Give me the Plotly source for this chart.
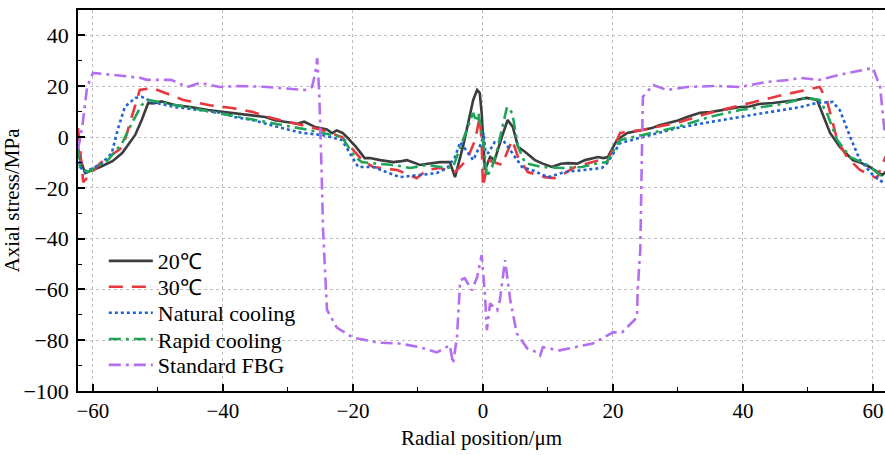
import plotly.graph_objects as go

# 20 °C
x20 = [-62.2, -61.2, -58.9, -57.0, -55.5, -53.5, -52.5, -51.5, -50.7, -49.5, -47.4, -45.0, -42.3, -40.2, -37.5,
       -35.5, -33.5, -32.0, -30.2, -28.5, -27.5, -25.8, -24.0, -23.2, -22.5, -21.6, -20.8, -19.5, -18.2, -17.4,
       -15.8, -13.8, -12.5, -11.7, -10.5, -9.7, -8.5, -7.5, -6.6, -5.1, -4.3, -3.0, -1.5, -0.9, -0.5, -0.2, 0.3,
       1.1, 1.8, 2.9, 3.8, 4.6, 5.4, 6.5, 8.0, 9.2, 10.6, 12.0, 13.1, 14.5, 15.7, 17.7, 18.5, 19.2, 20.6, 22.2,
       24.6, 26.0, 27.0, 28.3, 30.0, 31.5, 33.4, 35.0, 37.0, 39.5, 41.0, 42.5, 44.6, 46.5, 48.0, 49.8, 51.4,
       53.4, 54.9, 56.9, 58.0, 59.5, 61.4, 62.3]
y20 = [-7, -14.2, -11.8, -9.5, -6.3, 0.8, 6.7, 13.4, 13.2, 14.0, 12.6, 11.8, 10.6, 9.9, 9.3,
       8.5, 7.9, 6.6, 5.9, 5.2, 6.0, 3.9, 3.0, 1.5, 2.6, 1.6, -0.4, -4.0, -8.3, -8.3,
       -9.1, -9.9, -9.5, -9.1, -10.2, -11.0, -10.5, -10.3, -9.9, -9.9, -15.8, -3.0, 14.6, 18.5, 17.4, 9.5, -13.0,
       -7.9, -9.1, 0.0, 6.7, 3.9, -3.9, -5.9, -9.1, -10.5, -11.8, -10.5, -10.3, -10.5, -9.1, -7.9, -8.3, -7.9, -1.2, 1.6,
       2.8, 3.5, 4.5, 5.5, 6.5, 8.0, 9.5, 9.8, 10.6, 11.8, 12.0, 13.0, 13.4, 13.9, 14.5, 15.4, 14.6,
       1.6, -3.9, -9.1, -10.0, -11.8, -15.0, -13.0]

# 30 °C
x30 = [-62.3, -61.5, -58.9, -55.4, -52.8, -50.9, -46.1, -42.0, -38.6, -35.5, -32.5, -27.8, -24.8, -21.7, -18.6,
       -16.9, -13.2, -10.2, -8.6, -6.6, -4.3, -2.5, -1.2, -0.5, -0.2, 0.0, 0.8, 2.9, 4.5, 5.4, 6.9, 9.5, 11.0,
       12.6, 14.2, 16.2, 18.0, 19.1, 21.1, 24.6, 30.3, 34.9, 39.5, 41.1, 46.2, 49.8, 51.8, 52.9, 54.5, 56.0,
       58.0, 60.6, 61.5, 62.3]
y30 = [3.5, -17.8, -10.3, -3.9, 18.5, 19.3, 14.6, 12.5, 11.4, 9.9, 7.5, 4.7, 2.8, 0.0, -9.1,
       -11.8, -13.0, -16.2, -13.0, -12.2, -13.8, -9.1, -1.2, 7.9, -2.0, -19.7, -9.1, -11.0, -1.2, -7.9, -13.8, -15.8, -16.2,
       -14.2, -11.8, -10.3, -9.1, -9.9, 1.6, 2.8, 5.9, 9.5, 12.6, 13.4, 16.6, 18.5, 19.7, 14.6, -1.2, -7.9,
       -13.0, -16.2, -10.3, -6.0]

# Natural cooling
xnat = [-62.3, -62.0, -61.2, -58.6, -57.1, -56.2, -55.1, -53.5, -52.5, -50.9, -47.4, -44.0, -40.2, -38.2, -35.5,
        -30.9, -27.8, -24.8, -21.7, -19.2, -16.9, -12.8, -9.7, -7.1, -5.5, -4.3, -3.5, -1.5, -0.2, 0.1, 0.4, 0.8,
        1.8, 3.1, 4.5, 6.0, 7.5, 10.0, 12.6, 15.7, 18.3, 19.1, 21.1, 24.6, 29.8, 34.9, 39.5, 44.6, 48.8, 51.4,
        53.8, 54.9, 56.5, 58.0, 60.0, 61.5, 62.3]
ynat = [-2.4, -11.8, -13.8, -10.3, -6.3, 2.8, 11.8, 15.4, 15.8, 13.8, 11.8, 10.8, 9.5, 7.9, 6.7,
        3.5, 1.6, 0.8, -1.2, -11.8, -11.8, -15.8, -15.0, -14.2, -12.2, -7.9, -2.0, -9.1, -2.0, 1.6, -6.3, -6.3,
        -2.0, -1.2, -6.3, -11.8, -13.0, -15.8, -13.8, -13.0, -12.2, -10.3, -2.4, 0.0, 3.5, 5.9, 7.9, 9.9, 11.8, 13.4,
        13.8, 10.6, 0.0, -9.1, -15.0, -17.8, -17.0]

# Rapid cooling
xrap = [-62.3, -62.0, -60.8, -57.7, -55.5, -54.0, -52.5, -51.5, -47.4, -41.0, -33.0, -26.9, -23.2, -21.7, -19.7,
        -18.6, -16.0, -13.8, -11.2, -8.6, -5.5, -4.6, -2.5, -1.5, -1.0, -0.7, 0.2, 0.6, 1.4, 2.3, 3.7, 4.5, 5.4,
        6.5, 9.1, 12.2, 15.2, 17.7, 19.0, 21.1, 24.6, 29.8, 34.9, 39.5, 45.2, 49.8, 51.8, 52.9, 54.5, 56.5,
        59.1, 61.5, 62.3]
yrap = [-4.0, -11.8, -13.8, -9.1, -2.4, 5.5, 12.6, 14.6, 12.6, 9.5, 5.9, 2.8, 0.8, 0.0, -7.9,
        -9.9, -10.6, -11.0, -12.2, -11.0, -12.2, -11.8, 2.8, 9.5, 6.0, 9.5, -5.0, -15.8, -11.8, -3.9, 11.8, 9.5, -3.9,
        -10.3, -11.8, -12.2, -11.8, -10.3, -9.9, -1.2, 0.8, 3.9, 7.9, 10.6, 12.6, 15.4, 14.6, 9.5, -1.2, -7.9,
        -11.0, -15.8, -14.0]

# Standard FBG
xstd = [-62.3, -61.6, -60.9, -60.0, -56.0, -52.8, -51.7, -48.0, -45.5, -43.5, -40.5, -37.4, -33.2, -30.9, -27.4,
        -26.3, -25.8, -25.5, -25.2, -24.8, -24.6, -24.0, -22.5, -20.0, -16.0, -12.8, -9.7, -7.1, -5.1, -4.6,
        -4.0, -3.5, -2.8, -1.7, -0.9, -0.2, 0.3, 0.6, 1.1, 2.2, 2.6, 3.4, 4.2, 5.2, 6.8, 8.3, 8.8, 9.2, 11.8,
        16.9, 20.0, 21.4, 23.7, 23.8, 24.2, 24.6, 25.7, 26.2, 28.3, 31.4, 36.0, 39.5, 43.7, 47.2, 48.8, 51.8,
        54.9, 58.5, 60.0, 61.1, 61.8]
ystd = [-5.0, 5.0, 19.7, 25.2, 24.2, 23.3, 22.5, 22.5, 19.7, 21.3, 19.7, 20.1, 19.7, 19.3, 18.5,
        19.7, 25.2, 31.0, 18.0, -15.8, -36.7, -68.0, -75.0, -79.0, -81.0, -81.3, -82.8, -84.8, -82.0, -89.2,
        -78.9, -56.4, -55.6, -60.4, -55.2, -46.5, -61.5, -76.1, -65.5, -68.2, -64.3, -48.5, -64.3, -77.3, -83.2, -84.8, -86.0, -82.8, -84.0,
        -81.3, -76.9, -76.9, -71.0, -60.4, -44.6, 15.8, 19.3, 20.5, 18.5, 19.7, 20.1, 19.7, 21.7, 22.5, 23.3, 22.5,
        24.5, 26.4, 27.2, 19.7, 1.6]

series = [
    ("20℃", x20, y20, "#3d3d3d", "solid"),
    ("30℃", x30, y30, "#e8383d", "14px,9px"),
    ("Natural cooling", xnat, ynat, "#1f63d4", "dot"),
    ("Rapid cooling", xrap, yrap, "#1fa55a", "12px,5px,3px,5px"),
    ("Standard FBG", xstd, ystd, "#b36ff0", "12px,5px,3px,5px"),
]

font = "Liberation Serif"
legend_rows_y = [0.341, 0.273, 0.205, 0.136, 0.068]

fig = go.Figure()
layout_legends = {}
for i, (name, xs, ys, col, dash) in enumerate(series):
    key = "legend" if i == 0 else f"legend{i + 1}"
    fig.add_trace(go.Scatter(x=xs, y=ys, mode="lines", name=name, legend=key,
                             line=dict(color=col, width=2.6, dash=dash)))
    layout_legends[key] = dict(x=0.032, y=legend_rows_y[i], xanchor="left", yanchor="middle",
                               bgcolor="rgba(0,0,0,0)", font=dict(family=font, size=22),
                               itemwidth=44, borderwidth=0)

fig.update_layout(
    width=885, height=455,
    margin=dict(l=78, r=0, t=10, b=64, autoexpand=False),
    plot_bgcolor="white", paper_bgcolor="white",
    font=dict(family=font, size=21, color="black"),
    showlegend=True,
    xaxis=dict(range=[-62.3, 61.85], tickvals=[-60, -40, -20, 0, 20, 40, 60],
               automargin=False,
               ticks="inside", ticklen=7, tickwidth=1.5, tickcolor="black",
               minor=dict(dtick=10, tick0=0, ticks="inside", ticklen=4, tickwidth=1.2, tickcolor="black", showgrid=False),
               showline=True, linecolor="black", linewidth=1.5, mirror=True,
               showgrid=True, gridcolor="#bdbdbd", griddash="dot", gridwidth=1,
               zeroline=False, tickfont=dict(family=font, size=21),
               title=dict(text="Radial position/μm", font=dict(family=font, size=21), standoff=8)),
    yaxis=dict(range=[-100, 50], tickvals=[-100, -80, -60, -40, -20, 0, 20, 40],
               automargin=False,
               ticks="inside", ticklen=7, tickwidth=1.5, tickcolor="black",
               minor=dict(dtick=10, tick0=0, ticks="inside", ticklen=4, tickwidth=1.2, tickcolor="black", showgrid=False),
               showline=True, linecolor="black", linewidth=1.5, mirror=False,
               showgrid=True, gridcolor="#bdbdbd", griddash="dot", gridwidth=1,
               zeroline=False, tickfont=dict(family=font, size=22), ticklabelstandoff=3,
               title=dict(text="Axial stress/MPa", font=dict(family=font, size=21), standoff=9)),
    **layout_legends,
)

fig.write_html("out.html", config={"displayModeBar": False},
               post_script="document.body.style.margin='0';document.body.style.overflow='hidden';")
